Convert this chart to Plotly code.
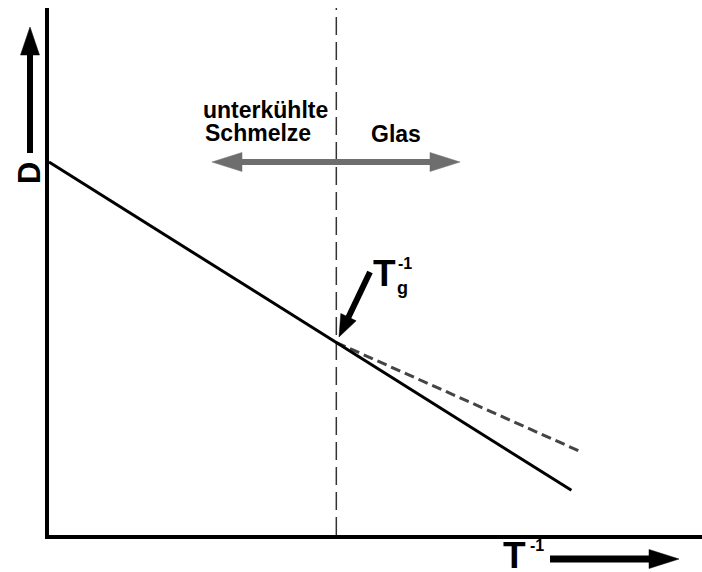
import plotly.graph_objects as go

# Diffusion coefficient D against inverse temperature (arbitrary units)
inv_T_melt = [0.0, 1.0]          # supercooled melt branch
D_melt = [1.0, 0.12]
Tg_inv = 0.55                    # glass transition, 1/Tg
inv_T_glass = [0.55, 1.02]       # extrapolated glass branch
D_glass = [0.516, 0.222]
x_range = [0.0, 1.25]
y_range = [0.0, 1.413]

W_FIG, H_FIG = 702, 572
M_L, M_R, M_T, M_B = 49, 0, 8, 37
PW = W_FIG - M_L - M_R
PH = H_FIG - M_T - M_B
FONT = "Liberation Sans, Arial, sans-serif"


def px(x):
    return (x - M_L) / PW


def py(y):
    return (H_FIG - M_B - y) / PH


def arrow(x0, y0, x1, y1, width, head_len, head_w, color):
    """Arrow drawn in pixel space from tail (x0, y0) to tip (x1, y1)."""
    dx, dy = x1 - x0, y1 - y0
    n = (dx * dx + dy * dy) ** 0.5
    ux, uy = dx / n, dy / n
    bx, by = x1 - ux * head_len, y1 - uy * head_len
    nx, ny = -uy, ux
    shapes = [
        dict(type="line", xref="paper", yref="paper",
             x0=px(x0), y0=py(y0), x1=px(bx + ux * 2), y1=py(by + uy * 2),
             line=dict(color=color, width=width)),
    ]
    pts = [(x1, y1),
           (bx + nx * head_w / 2, by + ny * head_w / 2),
           (bx - nx * head_w / 2, by - ny * head_w / 2)]
    path = "M " + " L ".join(f"{px(a):.5f},{py(b):.5f}" for a, b in pts) + " Z"
    shapes.append(dict(type="path", xref="paper", yref="paper", path=path,
                       fillcolor=color, line=dict(color=color, width=0.5)))
    return shapes


fig = go.Figure()

# glass transition marker
fig.add_trace(go.Scatter(
    x=[Tg_inv, Tg_inv], y=y_range, mode="lines",
    line=dict(color="#333333", width=1.5, dash="18px,7px"),
    hoverinfo="skip", showlegend=False))

# extrapolated branch below Tg
fig.add_trace(go.Scatter(
    x=inv_T_glass, y=D_glass, mode="lines",
    line=dict(color="#444444", width=3, dash="10px,5px"),
    hoverinfo="skip", showlegend=False))

# measured trend
fig.add_trace(go.Scatter(
    x=inv_T_melt, y=D_melt, mode="lines",
    line=dict(color="black", width=3),
    hoverinfo="skip", showlegend=False))

shapes = []
shapes += arrow(30, 153, 30, 27, 6, 28, 19, "black")       # D axis arrow
shapes += arrow(550, 559, 679, 559, 7, 30, 19, "black")    # 1/T axis arrow
shapes += arrow(336, 162, 212, 162, 6, 30, 19, "#6e6e6e")  # melt side
shapes += arrow(336, 162, 460, 162, 6, 30, 19, "#6e6e6e")  # glass side
shapes += arrow(370, 272, 339, 337, 6, 22, 17, "black")    # Tg pointer

annotations = [
    dict(text="<b>D</b>", x=px(29), y=py(173), textangle=-90, font_size=31),
    dict(text="<b>T</b>", x=px(514), y=py(555), font_size=37),
    dict(text="<b>-1</b>", x=px(537), y=py(545), font_size=16),
    dict(text="<b>unterkühlte</b>", x=px(265), y=py(110), font_size=23),
    dict(text="<b>Schmelze</b>", x=px(258), y=py(133), font_size=23),
    dict(text="<b>Glas</b>", x=px(396), y=py(134), font_size=23),
    dict(text="<b>T</b>", x=px(384), y=py(273), font_size=37),
    dict(text="<b>g</b>", x=px(402), y=py(288), font_size=18),
    dict(text="<b>-1</b>", x=px(405), y=py(263), font_size=16),
]
for a in annotations:
    a.update(xref="paper", yref="paper", showarrow=False,
             xanchor="center", yanchor="middle")
    a["font"] = dict(family=FONT, color="black", size=a.pop("font_size"))

axis_common = dict(showgrid=False, zeroline=False, showticklabels=False,
                   ticks="", showline=True, linecolor="black", linewidth=3.5)

fig.update_layout(
    width=W_FIG, height=H_FIG,
    margin=dict(l=M_L, r=M_R, t=M_T, b=M_B),
    paper_bgcolor="white", plot_bgcolor="white",
    xaxis=dict(range=x_range, **axis_common),
    yaxis=dict(range=y_range, **axis_common),
    shapes=shapes, annotations=annotations,
    font=dict(family=FONT),
)

fig.write_html("out.html")
